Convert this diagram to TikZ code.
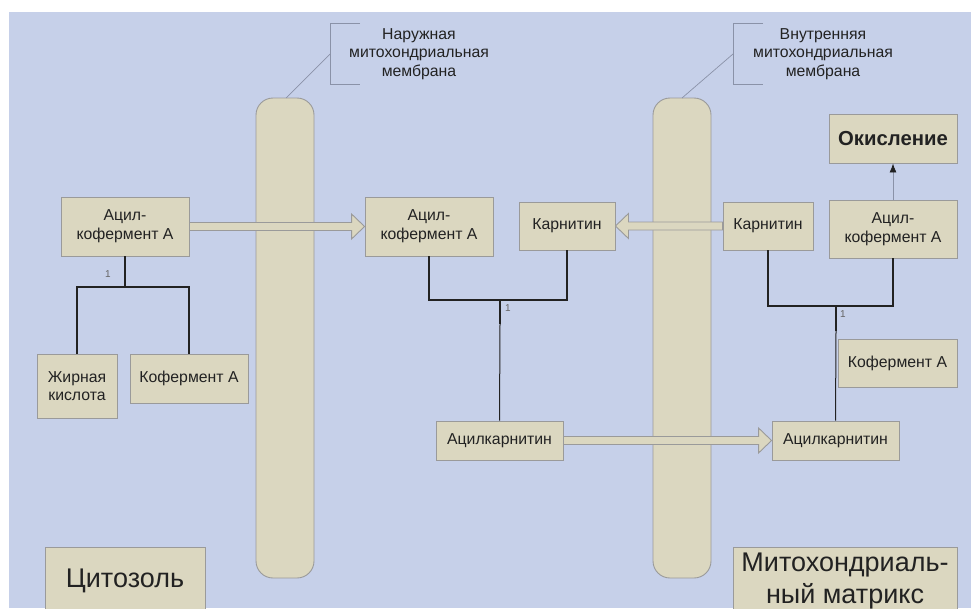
\documentclass[tikz,border=0pt]{standalone}
\usepackage{fontspec}
\setmainfont{Liberation Sans}
\usetikzlibrary{calc,arrows.meta}
\definecolor{bgblue}{HTML}{C6D0E9}
\definecolor{beige}{HTML}{DBD7C0}
\definecolor{edgegray}{HTML}{9A9A9A}
\definecolor{txt}{HTML}{222222}
\definecolor{callout}{HTML}{8A92A8}
\tikzset{
  box/.style={draw=edgegray, fill=beige, line width=0.9pt, inner sep=0pt, align=center, text=txt,
     font=\fontsize{15.8}{18.7}\selectfont},
  membrane/.style={draw=edgegray, fill=beige, line width=0.9pt, rounded corners=17pt},
  barrow/.style={draw=edgegray, fill=beige, line width=0.9pt},
  link/.style={draw=txt, line width=1.4pt},
  linkthin/.style={draw=txt, line width=1pt},
  bracket/.style={draw=callout, line width=0.7pt},
  one/.style={font=\fontsize{10}{11}\selectfont, text=txt!70, inner sep=0pt},
  calltext/.style={align=center, text=txt, font=\fontsize{15.8}{18.6}\selectfont, inner sep=0pt}
}
\newcommand\blockarr[2]{\path[barrow] let \p1=(#1), \p2=(#2), \n1={sign(\x2-\x1)} in
  ({\x1},{\y1+4pt}) -- ({\x2-13pt*\n1},{\y1+4pt}) -- ({\x2-13pt*\n1},{\y1+12.5pt}) -- ({\x2},{\y1})
  -- ({\x2-13pt*\n1},{\y1-12.5pt}) -- ({\x2-13pt*\n1},{\y1-4pt}) -- ({\x1},{\y1-4pt}) -- cycle;}
\begin{document}
\begin{tikzpicture}[x=1pt,y=-1pt]
\useasboundingbox (0,0) rectangle (971,608);
\clip (0,0) rectangle (971,608);
\fill[bgblue] (9,12) rectangle (971,608);
% membranes
\path[membrane] (256,98) rectangle (314,578);
\path[membrane] (653,98) rectangle (711,578);
% callouts
\coordinate (c1) at (330,54);
\coordinate (m1) at (286,98);
\draw[bracket] (360,23) -- (330,23) -- (330,84) -- (360,84);
\draw[bracket] (c1) -- (m1);
\node[calltext] (t1) at (419,54) {Наружная\\митохондриальная\\мембрана};
\coordinate (c2) at (733,54);
\coordinate (m2) at (682,98);
\draw[bracket] (763,23) -- (733,23) -- (733,84) -- (763,84);
\draw[bracket] (c2) -- (m2);
\node[calltext] (t2) at (823,54) {Внутренняя\\митохондриальная\\мембрана};
% boxes
\node[box, minimum width=128, minimum height=59] (accL) at (125,226.5) {Ацил-\\кофермент А};
\node[box, minimum width=128, minimum height=59] (accM) at (429,226.5) {Ацил-\\кофермент А};
\node[box, minimum width=96, minimum height=48] (carM) at (567,226) {Карнитин};
\node[box, minimum width=90, minimum height=48] (carR) at (768,226) {Карнитин};
\node[box, minimum width=128, minimum height=49, font=\fontsize{20.3}{24}\selectfont\bfseries] (oxi) at (893,138.5) {Окисление};
\node[box, minimum width=128, minimum height=58] (accR) at (893,229) {Ацил-\\кофермент А};
\node[box, minimum width=80, minimum height=64] (fat) at (77,386) {Жирная\\кислота};
\node[box, minimum width=118, minimum height=49] (coaL) at (189,378.5) {Кофермент А};
\node[box, minimum width=127, minimum height=39] (acM) at (499.5,440.5) {Ацилкарнитин};
\node[box, minimum width=127, minimum height=39] (acR) at (835.5,440.5) {Ацилкарнитин};
\node[box, minimum width=119, minimum height=48] (coaR) at (897.5,363) {Кофермент А};
\node[box, minimum width=160, minimum height=68, font=\fontsize{27}{32}\selectfont] (cyt) at (125,581) {Цитозоль};
\node[box, minimum width=224, minimum height=68, text height=0pt] (mat) at (845,581) {};
\node[inner sep=0pt, align=center, text=txt, font=\fontsize{27}{32}\selectfont, anchor=north] (matt) at (845,552.5) {Митохондриаль-\\ный матрикс};
% left tree
\coordinate (jL) at (125,287);
\draw[link] (accL.south) -- (jL);
\draw[link] (fat.north) |- (jL) -| (coaL.north);
\node[one] (n1) at (108,274) {1};
% middle tree
\coordinate (jM) at (500,300);
\coordinate (kM) at (500,324);
\draw[link] (accM.south) |- (jM) -| (carM.south);
\draw[link] (jM) -- (kM);
\draw[linkthin] (kM) -- (acM.north);
\node[one] (n2) at (508,308) {1};
% right tree
\coordinate (jR) at (836,306);
\coordinate (kR) at (836,331);
\draw[link] (carR.south) |- (jR) -| (accR.south);
\draw[link] (jR) -- (kR);
\draw[linkthin] (kR) -- (acR.north);
\node[one] (n3) at (843,314) {1};
% oxidation arrow
\draw[draw=callout, line width=0.8pt, -{Latex[length=9pt,width=7pt,color=txt]}] (accR.north) -- (oxi.south);
% block arrows
\blockarr{accL.east}{accM.west}
\blockarr{carR.west}{carM.east}
\blockarr{acM.east}{acR.west}
\end{tikzpicture}
\end{document}
